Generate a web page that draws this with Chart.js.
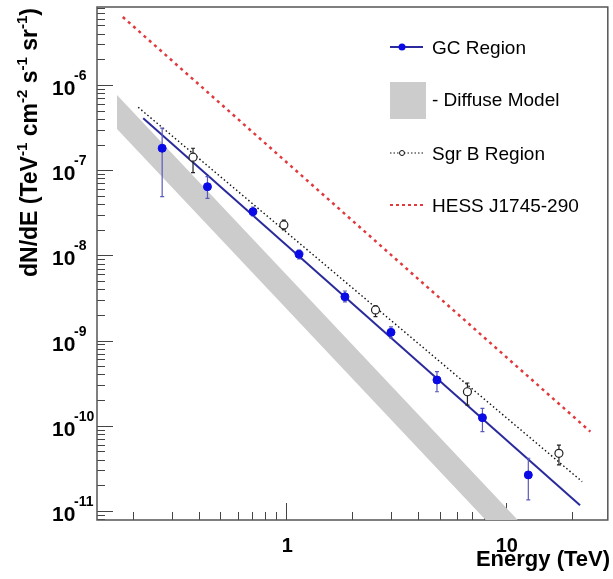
<!DOCTYPE html>
<html>
<head>
<meta charset="utf-8">
<script src="https://cdn.jsdelivr.net/npm/chart.js@4/dist/chart.umd.min.js"></script>
<style>
  body { margin: 0; background: #fff; }
  #wrap { width: 613px; height: 579px; position: relative; }
</style>
</head>
<body>
<div id="wrap"><canvas id="spectrum"></canvas></div>
<script>
// energies in TeV, fluxes in TeV^-1 cm^-2 s^-1 sr^-1
const gcEnergy = [0.272, 0.4375, 0.705, 1.143, 1.85, 3.0, 4.86, 7.83, 12.67];
const gcFlux = [1.81e-7, 6.40e-8, 3.26e-8, 1.03e-8, 3.27e-9, 1.25e-9, 3.45e-10, 1.245e-10, 2.65e-11];
const gcFluxHigh = [3.11e-7, 8.40e-8, 3.70e-8, 1.156e-8, 3.82e-9, 1.445e-9, 4.33e-10, 1.60e-10, 4.16e-11];
const gcFluxLow = [4.89e-8, 4.68e-8, 2.90e-8, 9.07e-9, 2.84e-9, 1.074e-9, 2.51e-10, 8.53e-11, 1.35e-11];

const sgrEnergy = [0.376, 0.975, 2.55, 6.69, 17.47];
const sgrFlux = [1.42e-7, 2.28e-8, 2.29e-9, 2.51e-10, 4.75e-11];
const sgrFluxHigh = [1.81e-7, 2.60e-8, 2.55e-9, 3.18e-10, 5.92e-11];
const sgrFluxLow = [9.35e-8, 1.99e-8, 1.91e-9, 1.75e-10, 3.47e-11];

// power-law fits, only the end points
const gcFitEnergy = [0.223, 21.8];
const gcFitFlux = [4.06e-7, 1.17e-11];
const sgrFitEnergy = [0.2116, 22.3];
const sgrFitFlux = [5.47e-7, 2.21e-11];
const hessEnergy = [0.180, 24.3];
const hessFlux = [6.28e-6, 8.53e-11];

// diffuse model band, upper and lower edge
const diffuseEnergy = [0.1693, 17.47];
const diffuseHigh = [7.63e-7, 2.41e-12];
const diffuseLow = [3.05e-7, 9.6e-13];

const yDecades = [-6, -7, -8, -9, -10, -11];
const xTickValues = [1, 10];
const xTickLabels = ['1', '10'];
const minorSteps = [2, 3, 4, 5, 6, 7, 8, 9];

const legendLabels = ['GC Region', '- Diffuse Model', 'Sgr B Region', 'HESS J1745-290'];
const yTitleParts = [['dN/dE (TeV', false], ['-1', true], [' cm', false], ['-2', true],
                     [' s', false], ['-1', true], [' sr', false], ['-1', true], [')', false]];

const FONT = '"Liberation Sans", Arial, Helvetica, sans-serif';

function pairs(xs, ys) {
    return xs.map((x, i) => ({ x: x, y: ys[i] }));
}

function seg(ctx, x0, y0, x1, y1) {
    ctx.beginPath();
    ctx.moveTo(x0, y0);
    ctx.lineTo(x1, y1);
    ctx.stroke();
}

// frame and inward ticks, drawn under the data like ROOT does
const frameAndTicks = {
    id: 'frameAndTicks',
    beforeDatasetsDraw(chart) {
        const { ctx, chartArea: a, scales: { x, y } } = chart;
        ctx.save();
        ctx.strokeStyle = '#444';
        ctx.lineWidth = 1;
        for (let e = -12; e <= -5; e++) {
            [1, ...minorSteps].forEach(m => {
                const v = m * Math.pow(10, e);
                if (v < y.min || v > y.max) return;
                const py = Math.round(y.getPixelForValue(v)) + 0.5;
                seg(ctx, a.left, py, a.left + (m === 1 ? 16 : 8), py);
            });
        }
        for (let e = -1; e <= 1; e++) {
            [1, ...minorSteps].forEach(m => {
                const v = m * Math.pow(10, e);
                if (v < x.min || v > x.max) return;
                const px = Math.round(x.getPixelForValue(v)) + 0.5;
                seg(ctx, px, a.bottom, px, a.bottom - (m === 1 ? 17 : 8));
            });
        }
        ctx.strokeStyle = '#555';
        ctx.lineWidth = 1.5;
        ctx.strokeRect(a.left, a.top, a.right - a.left, a.bottom - a.top);
        ctx.restore();
    }
};

const errorBars = {
    id: 'errorBars',
    beforeDatasetDraw(chart, args) {
        const ds = chart.data.datasets[args.index];
        if (!ds.errHigh) return;
        const { ctx, scales: { x, y } } = chart;
        ctx.save();
        ctx.strokeStyle = ds.errColor;
        ctx.lineWidth = 1.2;
        ds.data.forEach((p, i) => {
            const px = x.getPixelForValue(p.x);
            const top = y.getPixelForValue(ds.errHigh[i]);
            const bot = y.getPixelForValue(ds.errLow[i]);
            ctx.beginPath();
            ctx.moveTo(px, top); ctx.lineTo(px, bot);
            ctx.moveTo(px - 2, top); ctx.lineTo(px + 2, top);
            ctx.moveTo(px - 2, bot); ctx.lineTo(px + 2, bot);
            ctx.stroke();
        });
        ctx.restore();
    }
};

const legendBox = {
    id: 'legendBox',
    afterDraw(chart) {
        const ctx = chart.ctx;
        const ds = chart.data.datasets;
        ctx.save();
        // GC Region
        ctx.strokeStyle = ds[2].borderColor;
        ctx.lineWidth = 2;
        seg(ctx, 390, 47, 423, 47);
        ctx.fillStyle = ds[0].pointBackgroundColor;
        ctx.beginPath(); ctx.arc(402, 47, 3.5, 0, Math.PI * 2); ctx.fill();
        // Diffuse
        ctx.fillStyle = ds[5].backgroundColor;
        ctx.fillRect(390, 82, 36, 37);
        // Sgr B
        ctx.strokeStyle = ds[3].borderColor;
        ctx.lineWidth = 1;
        ctx.setLineDash([1.5, 2]);
        seg(ctx, 390, 153, 425, 153);
        ctx.setLineDash([]);
        ctx.fillStyle = '#fff';
        ctx.beginPath(); ctx.arc(402, 153, 2.5, 0, Math.PI * 2); ctx.fill(); ctx.stroke();
        // HESS
        ctx.strokeStyle = ds[4].borderColor;
        ctx.lineWidth = 2;
        ctx.setLineDash([3, 3]);
        seg(ctx, 390, 205, 425, 205);
        ctx.setLineDash([]);

        ctx.fillStyle = '#000';
        ctx.font = '19px ' + FONT;
        ctx.textBaseline = 'alphabetic';
        const baselines = [53.5, 106, 160, 212];
        legendLabels.forEach((t, i) => ctx.fillText(t, 432, baselines[i]));
        ctx.restore();
    }
};

const axisText = {
    id: 'axisText',
    afterDraw(chart) {
        const { ctx, scales: { x, y } } = chart;
        ctx.save();
        ctx.fillStyle = '#000';
        ctx.textBaseline = 'alphabetic';
        // y tick labels 10^n
        yDecades.forEach(e => {
            const py = y.getPixelForValue(Math.pow(10, e));
            ctx.textAlign = 'left';
            ctx.font = 'bold 21px ' + FONT;
            ctx.fillText('10', 52, py + 10);
            ctx.font = 'bold 14px ' + FONT;
            ctx.fillText(String(e), 74, py - 5);
        });
        // x tick labels
        ctx.textAlign = 'center';
        ctx.font = 'bold 20px ' + FONT;
        xTickValues.forEach((v, i) => ctx.fillText(xTickLabels[i], x.getPixelForValue(v) + 1, 552));
        ctx.textAlign = 'right';
        ctx.font = 'bold 22px ' + FONT;
        ctx.fillText('Energy (TeV)', 610, 566);
        // y title, rotated
        ctx.textAlign = 'left';
        ctx.translate(37, 277);
        ctx.rotate(-Math.PI / 2);
        let cx = 0;
        yTitleParts.forEach(([t, sup]) => {
            ctx.font = (sup ? 'bold 15px ' : 'bold 23px ') + FONT;
            ctx.fillText(t, cx, sup ? -10 : 0);
            cx += ctx.measureText(t).width;
        });
        ctx.restore();
    }
};

new Chart(document.getElementById('spectrum'), {
    type: 'line',
    data: {
        datasets: [
            {
                label: 'GC Region',
                data: pairs(gcEnergy, gcFlux),
                showLine: false,
                pointRadius: 4,
                pointBackgroundColor: '#0a0ae6',
                pointBorderColor: '#0a0ae6',
                errHigh: gcFluxHigh,
                errLow: gcFluxLow,
                errColor: '#5a5abd'
            },
            {
                label: 'Sgr B Region',
                data: pairs(sgrEnergy, sgrFlux),
                showLine: false,
                pointRadius: 4,
                pointBackgroundColor: '#fff',
                pointBorderColor: '#222',
                pointBorderWidth: 1.2,
                errHigh: sgrFluxHigh,
                errLow: sgrFluxLow,
                errColor: '#222'
            },
            {
                label: 'GC fit',
                data: pairs(gcFitEnergy, gcFitFlux),
                borderColor: '#2a2a9c',
                borderWidth: 2,
                pointRadius: 0
            },
            {
                label: 'Sgr B fit',
                data: pairs(sgrFitEnergy, sgrFitFlux),
                borderColor: '#111',
                borderWidth: 1.4,
                borderDash: [1.5, 2.5],
                pointRadius: 0
            },
            {
                label: 'HESS J1745-290',
                data: pairs(hessEnergy, hessFlux),
                borderColor: '#e0393e',
                borderWidth: 2.5,
                borderDash: [3, 4],
                pointRadius: 0
            },
            {
                label: 'Diffuse Model',
                data: pairs(diffuseEnergy, diffuseHigh),
                borderWidth: 0,
                borderColor: 'rgba(0,0,0,0)',
                backgroundColor: '#cccccc',
                pointRadius: 0,
                fill: '+1'
            },
            {
                label: 'Diffuse Model low',
                data: pairs(diffuseEnergy, diffuseLow),
                borderWidth: 0,
                borderColor: 'rgba(0,0,0,0)',
                pointRadius: 0,
                fill: false
            }
        ]
    },
    options: {
        responsive: true,
        maintainAspectRatio: false,
        animation: false,
        layout: { padding: { top: 7, right: 4, left: 0, bottom: 0 } },
        plugins: {
            legend: { display: false },
            tooltip: { enabled: false }
        },
        scales: {
            x: {
                type: 'logarithmic',
                min: 0.1373,
                max: 29.17,
                ticks: { display: false },
                grid: { display: false },
                border: { display: false },
                afterFit: s => { s.height = 59; }
            },
            y: {
                type: 'logarithmic',
                min: 7.84e-12,
                max: 8.23e-6,
                ticks: { display: false },
                grid: { display: false },
                border: { display: false },
                afterFit: s => { s.width = 97; }
            }
        }
    },
    plugins: [frameAndTicks, errorBars, legendBox, axisText]
});
</script>
</body>
</html>
